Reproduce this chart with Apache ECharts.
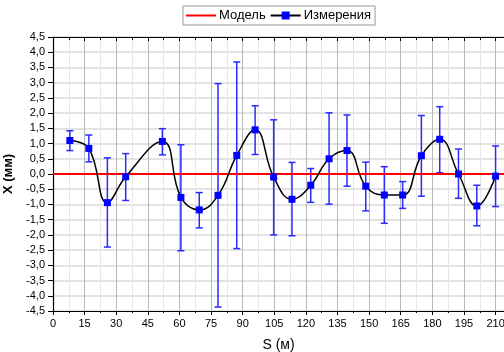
<!DOCTYPE html>
<html>
<head>
<meta charset="utf-8">
<script src="https://cdn.jsdelivr.net/npm/echarts@6/dist/echarts.min.js"></script>
<style>html,body{margin:0;padding:0;background:#fff;}#c{width:504px;height:352px;}</style>
</head>
<body>
<div id="c"></div>
<script>
const S = [8, 17, 25.8, 34.5, 51.9, 60.7, 69.4, 78.3, 87.2, 95.9, 104.7, 113.4, 122.3, 131, 139.5, 148.4, 157.2, 165.9, 174.8, 183.5, 192.4, 201.1, 210];
const X = [1.10, 0.84, -0.94, -0.09, 1.07, -0.77, -1.18, -0.70, 0.61, 1.45, -0.10, -0.83, -0.37, 0.50, 0.77, -0.40, -0.69, -0.69, 0.60, 1.14, 0.00, -1.05, -0.07];
const errHigh = [1.42, 1.28, 0.53, 0.67, 1.49, 0.96, -0.61, 2.97, 3.68, 2.24, 1.78, 0.38, 0.18, 2.01, 1.94, 0.39, 0.24, -0.25, 1.92, 2.21, 0.82, -0.37, 0.92];
const errLow = [0.77, 0.40, -2.40, -0.87, 0.63, -2.52, -1.77, -4.37, -2.45, 0.64, -2.00, -2.03, -0.93, -0.99, -0.40, -1.21, -1.62, -1.13, -0.73, 0.04, -0.80, -1.70, -1.07];
const modelS = [0, 214];
const modelX = [0, 0];
const xTicks = {min: 0, max: 214, interval: 15};
const yTicks = {min: -4.5, max: 4.5, interval: 0.5};

const FONT = 'Liberation Sans, Arial, sans-serif';
const chart = echarts.init(document.getElementById('c'), null, {renderer: 'canvas'});
const fmt = v => (Math.round(v * 10) / 10).toFixed(1).replace('.', ',');

chart.setOption({
  animation: false,
  textStyle: {fontFamily: FONT},
  grid: {left: 53, right: 0, top: 37, bottom: 41, containLabel: false, outerBoundsMode: 'none'},
  legend: {
    top: 6, left: 183,
    padding: [3, 4, 3, 3],
    borderColor: '#999', borderWidth: 1,
    itemWidth: 30, itemHeight: 10, itemGap: 4,
    textStyle: {fontSize: 13, color: '#000', fontFamily: FONT, padding: [0, 0, 0, -2]},
    data: [
      {name: 'Модель', icon: 'path://M0,0 L30,0 L30,2 L0,2 Z'},
      {name: 'Измерения'}
    ]
  },
  xAxis: [{
    type: 'value', min: xTicks.min, max: xTicks.max, interval: xTicks.interval,
    name: 'S (м)', nameLocation: 'middle', nameGap: 27,
    nameTextStyle: {fontSize: 14, color: '#000', fontFamily: FONT},
    axisLine: {onZero: false, lineStyle: {color: '#000', width: 1.2}},
    axisTick: {show: true, length: 4, lineStyle: {color: '#000'}},
    minorTick: {show: true, splitNumber: 2, length: 2, lineStyle: {color: '#000'}},
    axisLabel: {fontSize: 11, color: '#000', margin: 7, showMaxLabel: false, fontFamily: FONT},
    splitLine: {show: true, lineStyle: {color: '#b8b8b8', width: 1}},
    minorSplitLine: {show: true, lineStyle: {color: '#e6e6e6', width: 1}}
  }, {
    type: 'value', position: 'top', min: xTicks.min, max: xTicks.max, interval: xTicks.interval,
    axisLine: {onZero: false, lineStyle: {color: '#000', width: 1.2}},
    axisTick: {show: true, inside: true, length: 4, lineStyle: {color: '#000'}},
    minorTick: {show: true, splitNumber: 2, length: 3, lineStyle: {color: '#000'}},
    axisLabel: {show: false},
    splitLine: {show: false}
  }],
  yAxis: {
    type: 'value', min: yTicks.min, max: yTicks.max, interval: yTicks.interval,
    name: 'X (мм)', nameLocation: 'middle', nameGap: 35,
    nameTextStyle: {fontSize: 13, fontWeight: 'bold', color: '#000', fontFamily: FONT},
    axisLine: {onZero: false, lineStyle: {color: '#000', width: 1.2}},
    axisTick: {show: true, length: 5, lineStyle: {color: '#000'}},
    axisLabel: {fontSize: 11, color: '#000', margin: 8, formatter: fmt, fontFamily: FONT},
    splitLine: {show: true, lineStyle: {color: '#d9d9d9', width: 1.6}}
  },
  series: [
    {
      name: 'Модель', type: 'line', xAxisIndex: 0,
      data: modelS.map((s, i) => [s, modelX[i]]),
      showSymbol: false, symbol: 'none',
      lineStyle: {color: '#ff0000', width: 2},
      itemStyle: {color: '#ff0000'},
      z: 4
    },
    {
      name: 'errbars', type: 'custom', xAxisIndex: 0,
      data: S.map((s, i) => [s, errLow[i], errHigh[i]]),
      encode: {x: 0, y: [1, 2]},
      renderItem: function (params, api) {
        const lo = api.coord([api.value(0), api.value(1)]);
        const hi = api.coord([api.value(0), api.value(2)]);
        const w = 3.5;
        const st = {stroke: '#2a2aff', lineWidth: 1.5};
        return {
          type: 'group',
          children: [
            {type: 'line', shape: {x1: lo[0], y1: lo[1], x2: hi[0], y2: hi[1]}, style: st},
            {type: 'line', shape: {x1: lo[0] - w, y1: lo[1], x2: lo[0] + w, y2: lo[1]}, style: st},
            {type: 'line', shape: {x1: hi[0] - w, y1: hi[1], x2: hi[0] + w, y2: hi[1]}, style: st}
          ]
        };
      },
      z: 3, silent: true
    },
    {
      name: 'Измерения', type: 'line', xAxisIndex: 0,
      data: S.map((s, i) => [s, X[i]]),
      smooth: 0.45,
      symbol: 'rect', symbolSize: 7, showAllSymbol: true,
      lineStyle: {color: '#000', width: 1.5},
      itemStyle: {color: '#0000ff', borderWidth: 0},
      z: 5
    }
  ]
});
</script>
</body>
</html>
